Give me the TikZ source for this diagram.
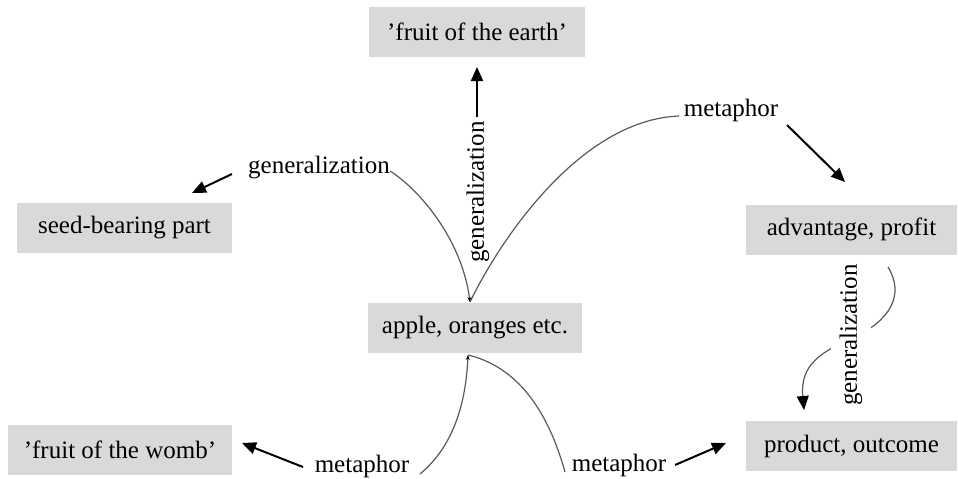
\documentclass[tikz,border=0pt]{standalone}
\usepackage{fontspec}
\setmainfont{Liberation Serif}
\usetikzlibrary{arrows.meta}
\begin{document}
\begin{tikzpicture}[x=1pt,y=-1pt,
  box/.style={fill=black!15, inner sep=0pt, minimum height=50pt, font=\fontsize{25}{30}\selectfont},
  lbl/.style={inner sep=1pt, font=\fontsize{25}{30}\selectfont},
  curve/.style={draw=black!65, line width=1.2pt},
  arr/.style={draw=black, line width=2pt, -{Triangle[length=14pt,width=12pt]}},
  tinytip/.style={-{Stealth[length=5pt,width=4pt,color=black]}},
  tinystart/.style={{Stealth[length=5pt,width=4pt,color=black]}-}
]
\useasboundingbox (0,0) rectangle (958,479);
% boxes
\node[box, minimum width=216pt] (earth) at (477,32) {’fruit of the earth’};
\node[box, minimum width=215pt] (seed) at (124.5,228) {seed-bearing part};
\node[box, minimum width=211pt] (adv) at (851.5,229.5) {advantage, profit};
\node[box, minimum width=214pt] (apple) at (475,328) {apple, oranges etc.};
\node[box, minimum width=224pt] (womb) at (120,450) {’fruit of the womb’};
\node[box, minimum width=211pt] (prod) at (851.5,446) {product, outcome};
% labels
\node[lbl] (g1) at (319,168) {generalization};
\node[lbl, rotate=90] (g2) at (478,192) {generalization};
\node[lbl] (m1) at (731,110) {metaphor};
\node[lbl] (m2) at (362,466) {metaphor};
\node[lbl] (m3) at (619,465) {metaphor};
% connector end points
\coordinate (atop) at (470,302);
\coordinate (abot) at (468,355);
\coordinate (g1e) at (390,171);
\coordinate (m1w) at (679,116);
\coordinate (m2e) at (420,474);
\coordinate (m3w) at (565,472);
\coordinate (r1) at (888,267);
\coordinate (r2) at (804,410);
% thin curves
\draw[curve, tinytip] (g1e) .. controls (420,190) and (462,240) .. (atop);
\draw[curve] (atop) .. controls (500,240) and (580,120) .. (m1w);
\draw[curve, tinystart] (abot) .. controls (466,400) and (455,445) .. (m2e);
\draw[curve] (abot) .. controls (510,365) and (545,400) .. (m3w);
\draw[curve, -{Triangle[length=14pt,width=12pt,color=black]}] (r1) .. controls (905,295) and (890,320) .. (855,337) .. controls (820,352) and (800,365) .. (r2);
\node[lbl, rotate=90, fill=white, inner xsep=2pt, inner ysep=9pt] (g3) at (851,335) {generalization};
% straight arrows
\coordinate (a1s) at (232,174); \coordinate (a1e) at (192,193);
\coordinate (a2s) at (477,117); \coordinate (a2e) at (477,67);
\coordinate (a3s) at (787,125); \coordinate (a3e) at (845,182);
\coordinate (a4s) at (303,467); \coordinate (a4e) at (242,443);
\coordinate (a5s) at (675,465); \coordinate (a5e) at (726,443);
\draw[arr] (a1s) -- (a1e);
\draw[arr] (a2s) -- (a2e);
\draw[arr] (a3s) -- (a3e);
\draw[arr] (a4s) -- (a4e);
\draw[arr] (a5s) -- (a5e);
\end{tikzpicture}
\end{document}
